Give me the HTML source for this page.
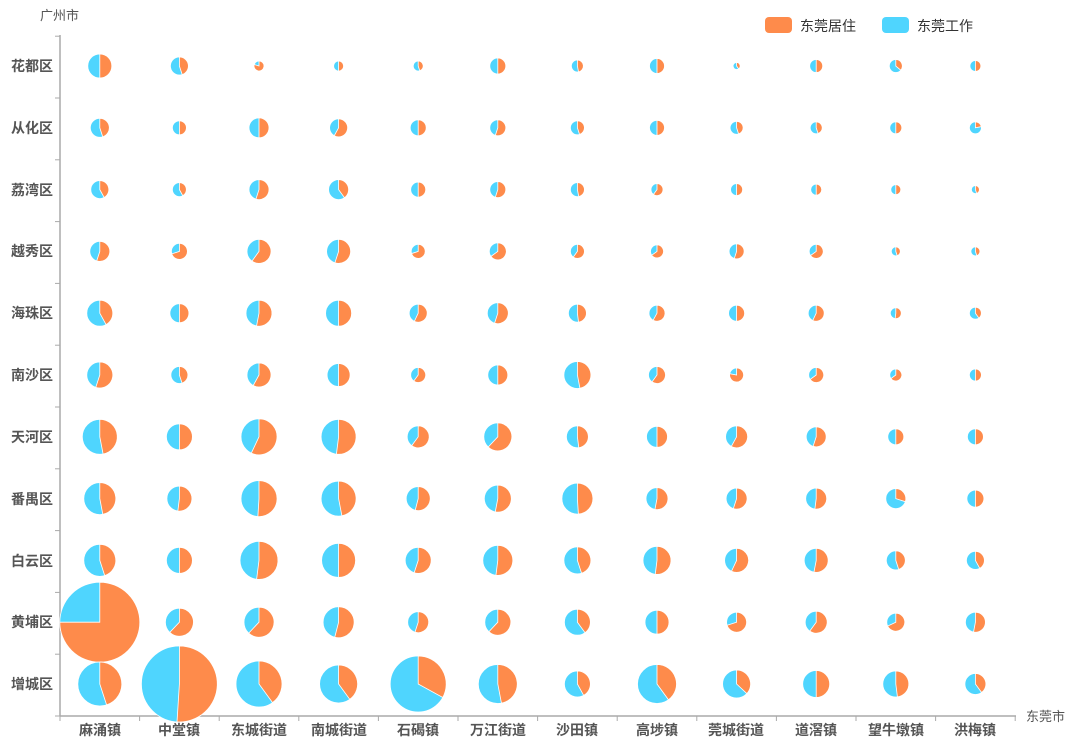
<!DOCTYPE html>
<html><head><meta charset="utf-8">
<style>
html,body{margin:0;padding:0;background:#fff;}
svg text{font-family:"Liberation Sans","Noto Sans CJK SC",sans-serif;}
</style></head>
<body>
<svg id="c" width="1080" height="742" viewBox="0 0 1080 742" xmlns="http://www.w3.org/2000/svg">
<g stroke="#aaa" stroke-width="1.5">
<line x1="60" y1="35" x2="60" y2="716"/>
<line x1="60" y1="716" x2="1016" y2="716"/>
</g>
<g id="ticks" stroke="#aaa" stroke-width="1"></g>
<text x="40" y="20" font-size="13" fill="#555">广州市</text>
<text x="1026" y="721" font-size="13" fill="#555">东莞市</text>
<g font-size="14" fill="#555" font-weight="bold" text-anchor="end">
<text x="53" y="71">花都区</text>
<text x="53" y="133">从化区</text>
<text x="53" y="195">荔湾区</text>
<text x="53" y="256">越秀区</text>
<text x="53" y="318">海珠区</text>
<text x="53" y="380">南沙区</text>
<text x="53" y="442">天河区</text>
<text x="53" y="504">番禺区</text>
<text x="53" y="566">白云区</text>
<text x="53" y="627">黄埔区</text>
<text x="53" y="689">增城区</text>
</g>
<g font-size="14" fill="#555" font-weight="bold" text-anchor="middle">
<text x="100" y="735">麻涌镇</text>
<text x="179" y="735">中堂镇</text>
<text x="259" y="735">东城街道</text>
<text x="339" y="735">南城街道</text>
<text x="418" y="735">石碣镇</text>
<text x="498" y="735">万江街道</text>
<text x="577" y="735">沙田镇</text>
<text x="657" y="735">高埗镇</text>
<text x="736" y="735">莞城街道</text>
<text x="816" y="735">道滘镇</text>
<text x="896" y="735">望牛墩镇</text>
<text x="975" y="735">洪梅镇</text>
</g>
<rect x="765" y="17" width="27" height="16" rx="4" fill="#fe8b4b"/>
<text x="800" y="31" font-size="14" fill="#333">东莞居住</text>
<rect x="882" y="17" width="27" height="16" rx="4" fill="#4fd5fe"/>
<text x="917" y="31" font-size="14" fill="#333">东莞工作</text>
<g id="pies"></g>
</svg>
<script>
var D=[
[[12,.5],[9,.45],[5,.8],[5,.5],[5,.45],[8,.5],[6,.47],[7.5,.5],[3.5,.4],[6.5,.5],[6.5,.36],[5.5,.5]],
[[9.5,.45],[7,.5],[10,.5],[9,.58],[8,.5],[8,.55],[7,.45],[7.5,.5],[6.5,.45],[6,.45],[6,.5],[6,.22]],
[[9,.42],[7,.42],[10,.55],[10,.4],[7.5,.5],[8,.55],[7,.47],[6,.6],[6,.5],[5.5,.5],[5,.5],[4,.45]],
[[10,.55],[8,.7],[12,.6],[12,.55],[7,.7],[8.5,.65],[7,.6],[6.5,.65],[7.5,.55],[7,.65],[4.5,.45],[4.5,.45]],
[[13,.42],[9.5,.5],[13,.53],[13,.5],[9,.57],[10.5,.55],[9,.48],[8,.58],[8,.5],[8,.57],[5.5,.52],[6,.4]],
[[13,.55],[8.5,.45],[12,.58],[11.5,.5],[7.5,.6],[10,.5],[13.5,.47],[8.5,.6],[7,.78],[7.5,.65],[6,.65],[6,.5]],
[[17.5,.47],[13,.5],[18,.57],[17.5,.52],[11,.6],[14,.62],[11,.48],[10.5,.5],[11,.58],[10,.55],[8,.5],[8,.5]],
[[16,.47],[12.5,.52],[18,.51],[17.5,.47],[12,.54],[13.5,.53],[15.5,.49],[11,.53],[10.5,.55],[10.5,.52],[10,.3],[8.5,.5]],
[[16,.45],[13,.5],[19,.52],[17,.5],[13,.55],[15,.52],[13.5,.45],[14,.52],[12,.57],[12,.53],[9.5,.45],[9,.42]],
[[40,.75],[14,.62],[15,.62],[15.5,.54],[10.5,.55],[13,.62],[13,.4],[12,.5],[10,.7],[11,.6],[9,.68],[10,.53]],
[[22,.45],[38,.51],[23,.4],[19,.4],[28,.33],[19.5,.47],[13,.42],[19.5,.4],[14,.37],[13.5,.5],[13,.48],[10.5,.4]]
];
var ns="http://www.w3.org/2000/svg",g=document.getElementById("pies"),t=document.getElementById("ticks"),s="";
for(var i=0;i<=12;i++){var x=60+i*79.6;s+='<line x1="'+x+'" y1="716" x2="'+x+'" y2="721"/>';}
for(var j=0;j<=11;j++){var y=716-j*61.8;s+='<line x1="55" y1="'+y+'" x2="60" y2="'+y+'"/>';}
t.innerHTML=s;
var h="";
for(var r=0;r<11;r++){var cy=66+r*61.8;
for(var c=0;c<12;c++){var cx=99.8+c*79.6,R=D[r][c][0],f=D[r][c][1];
var a=-Math.PI/2+f*2*Math.PI,ex=cx+R*Math.cos(a),ey=cy+R*Math.sin(a),lg=f>.5?1:0;
h+='<circle cx="'+cx+'" cy="'+cy+'" r="'+R+'" fill="#4fd5fe" stroke="#fff" stroke-width="0.8"/>';
h+='<path d="M'+cx+' '+cy+'L'+cx+' '+(cy-R)+'A'+R+' '+R+' 0 '+lg+' 1 '+ex.toFixed(2)+' '+ey.toFixed(2)+'Z" fill="#fe8b4b" stroke="#fff" stroke-width="0.8"/>';
}}
g.innerHTML=h;
</script>
</body></html>
